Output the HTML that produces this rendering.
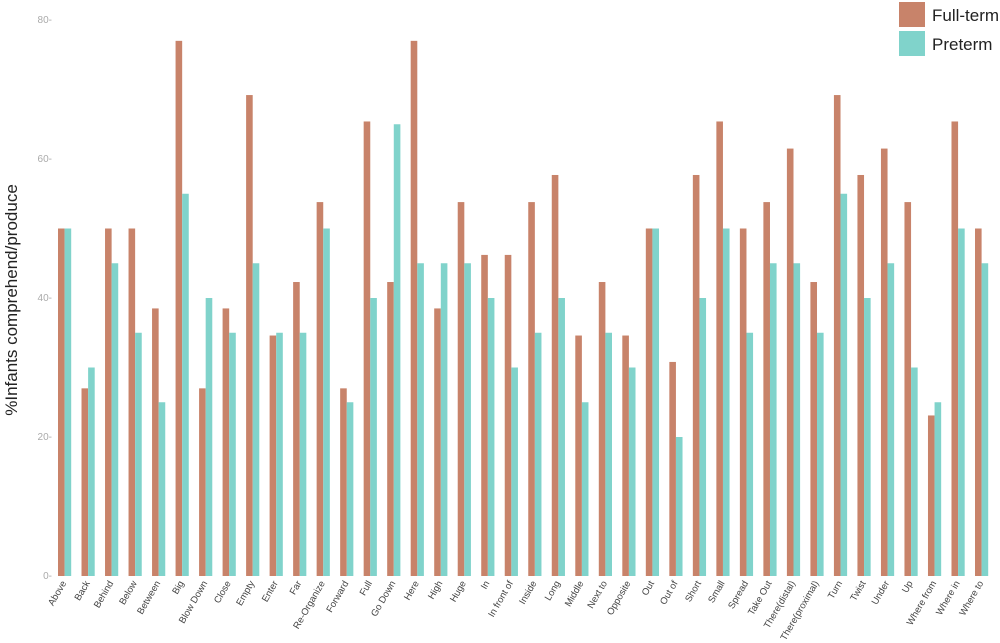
<!DOCTYPE html>
<html><head><meta charset="utf-8"><style>
body{margin:0;background:#fff;}
svg{display:block;font-family:"Liberation Sans",sans-serif;}
</style></head><body>
<svg id="chart" width="1000" height="643" viewBox="0 0 1000 643" xmlns="http://www.w3.org/2000/svg"></svg>
<script>
const categories = ["Above","Back","Behind","Below","Between","Big","Blow Down","Close","Empty","Enter","Far","Re-Organize","Forward","Full","Go Down","Here","High","Huge","In","In front of","Inside","Long","Middle","Next to","Opposite","Out","Out of","Short","Small","Spread","Take Out","There(distal)","There(proximal)","Turn","Twist","Under","Up","Where from","Where in","Where to"];
const fullTerm = [50,27,50,50,38.5,77,27,38.5,69.2,34.6,42.3,53.8,27,65.4,42.3,77,38.5,53.8,46.2,46.2,53.8,57.7,34.6,42.3,34.6,50,30.8,57.7,65.4,50,53.8,61.5,42.3,69.2,57.7,61.5,53.8,23.1,65.4,50];
const preterm = [50,30,45,35,25,55,40,35,45,35,35,50,25,40,65,45,45,45,40,30,35,40,25,35,30,50,20,40,50,35,45,45,35,55,40,45,30,25,50,45];
const yTicks = [0,20,40,60,80];

const svg = document.getElementById('chart');
const NS = 'http://www.w3.org/2000/svg';
const y0 = 576, pxPerUnit = 556/80;
const yScale = v => y0 - v*pxPerUnit;
const xStart = 58, step = (975-58)/39, bw = 6.6;
const xScale = i => xStart + i*step;
function mk(tag, attrs){const e=document.createElementNS(NS,tag);for(const k in attrs)e.setAttribute(k,attrs[k]);svg.appendChild(e);return e;}

yTicks.forEach(t=>{
  const e = mk('text',{x:52,y:yScale(t)+3,'text-anchor':'end','font-size':10,fill:'#aaa'});
  e.textContent = t + '-';
  
  
});
const yt = mk('text',{x:0,y:0,transform:'translate(17,300) rotate(-90)','text-anchor':'middle','font-size':17,fill:'#222'});
yt.textContent = '%Infants comprehend/produce';



categories.forEach((c,i)=>{
  const x = xScale(i);
  const b1 = mk('rect',{x:x,y:yScale(fullTerm[i]),width:bw,height:fullTerm[i]*pxPerUnit,fill:'#c8836a'});
  
  
  const b2 = mk('rect',{x:x+bw,y:yScale(preterm[i]),width:bw,height:preterm[i]*pxPerUnit,fill:'#80d3cb'});
  
  
  const cx = x+bw+2;
  const l = mk('text',{x:0,y:0,transform:`translate(${cx},583) rotate(-60)`,'text-anchor':'end','font-size':9.5,fill:'#444'});
  l.textContent = c;
  
  
});

const legend = [["Full-term","#c8836a",2],["Preterm","#80d3cb",31]];
legend.forEach(([t,col,y])=>{
  const r = mk('rect',{x:899,y:y,width:26,height:25,fill:col});
  
  
  const tx = mk('text',{x:932,y:y+19,'font-size':17,fill:'#222'});
  tx.textContent = t;
  
  
});
</script>
</body></html>
